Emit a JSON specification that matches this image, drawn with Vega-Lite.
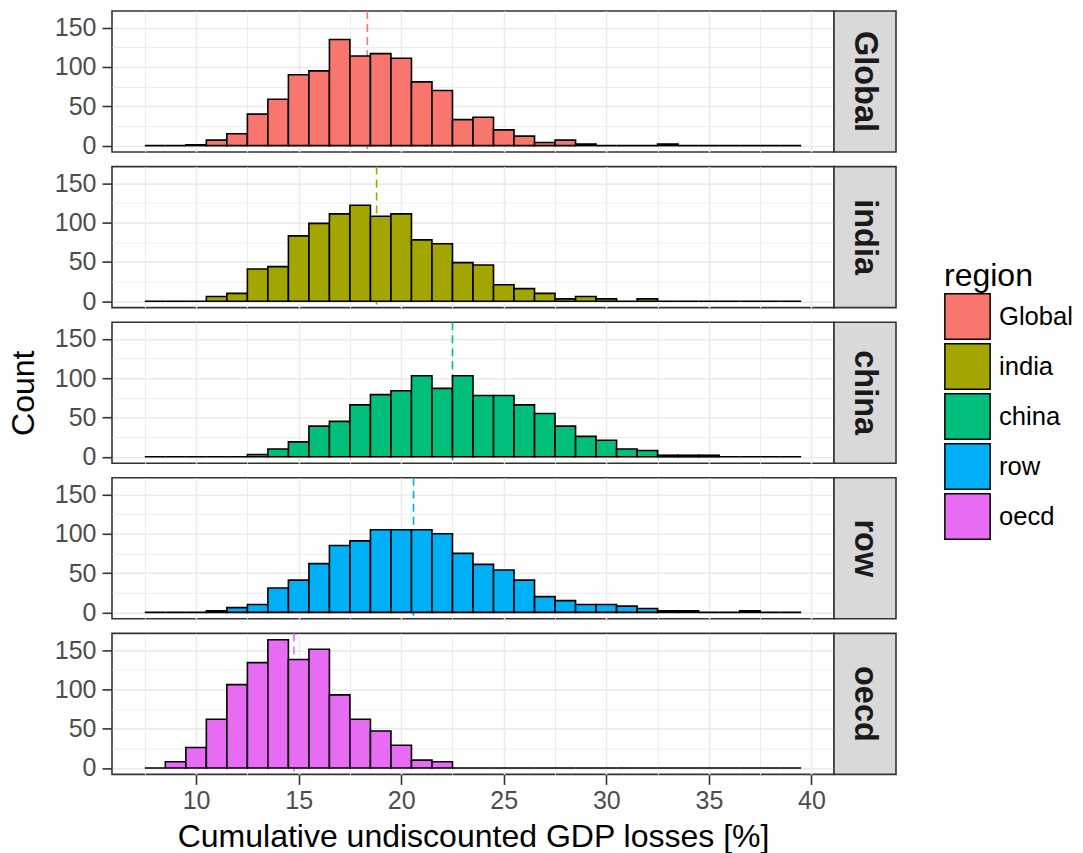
{
  "$schema": "https://vega.github.io/schema/vega-lite/v6.json",
  "background": "white",
  "padding": {"left": 6, "top": 9, "right": 0, "bottom": 0},
  "spacing": 4.6,
  "datasets": {
    "means": [
      {"region": "Global", "mean": 18.35},
      {"region": "india", "mean": 18.8},
      {"region": "china", "mean": 22.5},
      {"region": "row", "mean": 20.6},
      {"region": "oecd", "mean": 14.77}
    ],
    "hist": [
      {"region":"Global","lo":7.5,"hi":8.5,"count":0},{"region":"Global","lo":8.5,"hi":9.5,"count":0},{"region":"Global","lo":9.5,"hi":10.5,"count":1},{"region":"Global","lo":10.5,"hi":11.5,"count":7},{"region":"Global","lo":11.5,"hi":12.5,"count":15},{"region":"Global","lo":12.5,"hi":13.5,"count":40},{"region":"Global","lo":13.5,"hi":14.5,"count":59},{"region":"Global","lo":14.5,"hi":15.5,"count":90},{"region":"Global","lo":15.5,"hi":16.5,"count":95},{"region":"Global","lo":16.5,"hi":17.5,"count":135},{"region":"Global","lo":17.5,"hi":18.5,"count":114},{"region":"Global","lo":18.5,"hi":19.5,"count":117},{"region":"Global","lo":19.5,"hi":20.5,"count":111},{"region":"Global","lo":20.5,"hi":21.5,"count":81},{"region":"Global","lo":21.5,"hi":22.5,"count":70},{"region":"Global","lo":22.5,"hi":23.5,"count":33},{"region":"Global","lo":23.5,"hi":24.5,"count":36},{"region":"Global","lo":24.5,"hi":25.5,"count":20},{"region":"Global","lo":25.5,"hi":26.5,"count":12},{"region":"Global","lo":26.5,"hi":27.5,"count":4},{"region":"Global","lo":27.5,"hi":28.5,"count":7},{"region":"Global","lo":28.5,"hi":29.5,"count":2},{"region":"Global","lo":29.5,"hi":30.5,"count":0},{"region":"Global","lo":30.5,"hi":31.5,"count":0},{"region":"Global","lo":31.5,"hi":32.5,"count":0},{"region":"Global","lo":32.5,"hi":33.5,"count":2},{"region":"Global","lo":33.5,"hi":34.5,"count":0},{"region":"Global","lo":34.5,"hi":35.5,"count":0},{"region":"Global","lo":35.5,"hi":36.5,"count":0},{"region":"Global","lo":36.5,"hi":37.5,"count":0},{"region":"Global","lo":37.5,"hi":38.5,"count":0},{"region":"Global","lo":38.5,"hi":39.5,"count":0},
      {"region":"india","lo":7.5,"hi":8.5,"count":0},{"region":"india","lo":8.5,"hi":9.5,"count":0},{"region":"india","lo":9.5,"hi":10.5,"count":0},{"region":"india","lo":10.5,"hi":11.5,"count":6},{"region":"india","lo":11.5,"hi":12.5,"count":10},{"region":"india","lo":12.5,"hi":13.5,"count":41},{"region":"india","lo":13.5,"hi":14.5,"count":44},{"region":"india","lo":14.5,"hi":15.5,"count":83},{"region":"india","lo":15.5,"hi":16.5,"count":99},{"region":"india","lo":16.5,"hi":17.5,"count":111},{"region":"india","lo":17.5,"hi":18.5,"count":122},{"region":"india","lo":18.5,"hi":19.5,"count":108},{"region":"india","lo":19.5,"hi":20.5,"count":111},{"region":"india","lo":20.5,"hi":21.5,"count":78},{"region":"india","lo":21.5,"hi":22.5,"count":73},{"region":"india","lo":22.5,"hi":23.5,"count":49},{"region":"india","lo":23.5,"hi":24.5,"count":46},{"region":"india","lo":24.5,"hi":25.5,"count":21},{"region":"india","lo":25.5,"hi":26.5,"count":16},{"region":"india","lo":26.5,"hi":27.5,"count":10},{"region":"india","lo":27.5,"hi":28.5,"count":3},{"region":"india","lo":28.5,"hi":29.5,"count":6},{"region":"india","lo":29.5,"hi":30.5,"count":3},{"region":"india","lo":30.5,"hi":31.5,"count":0},{"region":"india","lo":31.5,"hi":32.5,"count":3},{"region":"india","lo":32.5,"hi":33.5,"count":0},{"region":"india","lo":33.5,"hi":34.5,"count":0},{"region":"india","lo":34.5,"hi":35.5,"count":0},{"region":"india","lo":35.5,"hi":36.5,"count":0},{"region":"india","lo":36.5,"hi":37.5,"count":0},{"region":"india","lo":37.5,"hi":38.5,"count":0},{"region":"india","lo":38.5,"hi":39.5,"count":0},
      {"region":"china","lo":7.5,"hi":8.5,"count":0},{"region":"china","lo":8.5,"hi":9.5,"count":0},{"region":"china","lo":9.5,"hi":10.5,"count":0},{"region":"china","lo":10.5,"hi":11.5,"count":0},{"region":"china","lo":11.5,"hi":12.5,"count":0},{"region":"china","lo":12.5,"hi":13.5,"count":3},{"region":"china","lo":13.5,"hi":14.5,"count":10},{"region":"china","lo":14.5,"hi":15.5,"count":19},{"region":"china","lo":15.5,"hi":16.5,"count":39},{"region":"china","lo":16.5,"hi":17.5,"count":45},{"region":"china","lo":17.5,"hi":18.5,"count":66},{"region":"china","lo":18.5,"hi":19.5,"count":79},{"region":"china","lo":19.5,"hi":20.5,"count":84},{"region":"china","lo":20.5,"hi":21.5,"count":103},{"region":"china","lo":21.5,"hi":22.5,"count":87},{"region":"china","lo":22.5,"hi":23.5,"count":103},{"region":"china","lo":23.5,"hi":24.5,"count":78},{"region":"china","lo":24.5,"hi":25.5,"count":78},{"region":"china","lo":25.5,"hi":26.5,"count":66},{"region":"china","lo":26.5,"hi":27.5,"count":55},{"region":"china","lo":27.5,"hi":28.5,"count":39},{"region":"china","lo":28.5,"hi":29.5,"count":26},{"region":"china","lo":29.5,"hi":30.5,"count":21},{"region":"china","lo":30.5,"hi":31.5,"count":10},{"region":"china","lo":31.5,"hi":32.5,"count":8},{"region":"china","lo":32.5,"hi":33.5,"count":2},{"region":"china","lo":33.5,"hi":34.5,"count":2},{"region":"china","lo":34.5,"hi":35.5,"count":2},{"region":"china","lo":35.5,"hi":36.5,"count":0},{"region":"china","lo":36.5,"hi":37.5,"count":0},{"region":"china","lo":37.5,"hi":38.5,"count":0},{"region":"china","lo":38.5,"hi":39.5,"count":0},
      {"region":"row","lo":7.5,"hi":8.5,"count":0},{"region":"row","lo":8.5,"hi":9.5,"count":0},{"region":"row","lo":9.5,"hi":10.5,"count":0},{"region":"row","lo":10.5,"hi":11.5,"count":2},{"region":"row","lo":11.5,"hi":12.5,"count":6},{"region":"row","lo":12.5,"hi":13.5,"count":10},{"region":"row","lo":13.5,"hi":14.5,"count":31},{"region":"row","lo":14.5,"hi":15.5,"count":41},{"region":"row","lo":15.5,"hi":16.5,"count":62},{"region":"row","lo":16.5,"hi":17.5,"count":85},{"region":"row","lo":17.5,"hi":18.5,"count":91},{"region":"row","lo":18.5,"hi":19.5,"count":105},{"region":"row","lo":19.5,"hi":20.5,"count":105},{"region":"row","lo":20.5,"hi":21.5,"count":105},{"region":"row","lo":21.5,"hi":22.5,"count":100},{"region":"row","lo":22.5,"hi":23.5,"count":75},{"region":"row","lo":23.5,"hi":24.5,"count":61},{"region":"row","lo":24.5,"hi":25.5,"count":54},{"region":"row","lo":25.5,"hi":26.5,"count":41},{"region":"row","lo":26.5,"hi":27.5,"count":20},{"region":"row","lo":27.5,"hi":28.5,"count":15},{"region":"row","lo":28.5,"hi":29.5,"count":10},{"region":"row","lo":29.5,"hi":30.5,"count":10},{"region":"row","lo":30.5,"hi":31.5,"count":8},{"region":"row","lo":31.5,"hi":32.5,"count":5},{"region":"row","lo":32.5,"hi":33.5,"count":2},{"region":"row","lo":33.5,"hi":34.5,"count":2},{"region":"row","lo":34.5,"hi":35.5,"count":0},{"region":"row","lo":35.5,"hi":36.5,"count":0},{"region":"row","lo":36.5,"hi":37.5,"count":2},{"region":"row","lo":37.5,"hi":38.5,"count":0},{"region":"row","lo":38.5,"hi":39.5,"count":0},
      {"region":"oecd","lo":7.5,"hi":8.5,"count":0},{"region":"oecd","lo":8.5,"hi":9.5,"count":8},{"region":"oecd","lo":9.5,"hi":10.5,"count":26},{"region":"oecd","lo":10.5,"hi":11.5,"count":62},{"region":"oecd","lo":11.5,"hi":12.5,"count":106},{"region":"oecd","lo":12.5,"hi":13.5,"count":134},{"region":"oecd","lo":13.5,"hi":14.5,"count":163},{"region":"oecd","lo":14.5,"hi":15.5,"count":138},{"region":"oecd","lo":15.5,"hi":16.5,"count":151},{"region":"oecd","lo":16.5,"hi":17.5,"count":93},{"region":"oecd","lo":17.5,"hi":18.5,"count":62},{"region":"oecd","lo":18.5,"hi":19.5,"count":47},{"region":"oecd","lo":19.5,"hi":20.5,"count":29},{"region":"oecd","lo":20.5,"hi":21.5,"count":10},{"region":"oecd","lo":21.5,"hi":22.5,"count":8},{"region":"oecd","lo":22.5,"hi":23.5,"count":0},{"region":"oecd","lo":23.5,"hi":24.5,"count":0},{"region":"oecd","lo":24.5,"hi":25.5,"count":0},{"region":"oecd","lo":25.5,"hi":26.5,"count":0},{"region":"oecd","lo":26.5,"hi":27.5,"count":0},{"region":"oecd","lo":27.5,"hi":28.5,"count":0},{"region":"oecd","lo":28.5,"hi":29.5,"count":0},{"region":"oecd","lo":29.5,"hi":30.5,"count":0},{"region":"oecd","lo":30.5,"hi":31.5,"count":0},{"region":"oecd","lo":31.5,"hi":32.5,"count":0},{"region":"oecd","lo":32.5,"hi":33.5,"count":0},{"region":"oecd","lo":33.5,"hi":34.5,"count":0},{"region":"oecd","lo":34.5,"hi":35.5,"count":0},{"region":"oecd","lo":35.5,"hi":36.5,"count":0},{"region":"oecd","lo":36.5,"hi":37.5,"count":0},{"region":"oecd","lo":37.5,"hi":38.5,"count":0},{"region":"oecd","lo":38.5,"hi":39.5,"count":0}
    ]
  },
  "vconcat": [
    {
      "spacing": 0, "bounds": "flush",
      "hconcat": [
        {
          "width": 722, "height": 141,
          "layer": [
            {
              "data": {"name": "means"},
              "transform": [{"filter": "datum.region === 'Global'"}],
              "mark": {"type": "rule", "strokeDash": [8, 5], "strokeWidth": 1.6, "color": "#F8766D"},
              "encoding": {
                "x": {"field": "mean", "type": "quantitative", "scale": {"domain": [5.9, 41.1], "nice": false, "zero": false},
                  "axis": {"values": [7.5,10,12.5,15,17.5,20,22.5,25,27.5,30,32.5,35,37.5,40], "title": null, "labels": false, "ticks": false, "gridWidth": {"condition": {"test": "datum.value % 5 !== 0", "value": 0.9}, "value": 1.6}}}
              }
            },
            {
              "data": {"name": "hist"},
              "transform": [{"filter": "datum.region === 'Global'"}],
              "mark": {"type": "bar", "stroke": "black", "strokeWidth": 1.6},
              "encoding": {
                "x": {"field": "lo", "type": "quantitative", "scale": {"domain": [5.9, 41.1], "nice": false, "zero": false},
                  "axis": {"values": [7.5,10,12.5,15,17.5,20,22.5,25,27.5,30,32.5,35,37.5,40], "title": null, "labels": false, "ticks": false, "gridWidth": {"condition": {"test": "datum.value % 5 !== 0", "value": 0.9}, "value": 1.6}}},
                "x2": {"field": "hi"},
                "y": {"field": "count", "type": "quantitative", "stack": null, "scale": {"domain": [-8.15, 171.15], "nice": false, "zero": false},
                  "axis": {"values": [0,25,50,75,100,125,150], "title": "Count", "titleOpacity": 0, "labelExpr": "datum.value % 50 === 0 ? '' + datum.value : ''", "tickOpacity": {"condition": {"test": "datum.value % 50 !== 0", "value": 0}, "value": 1}, "gridWidth": {"condition": {"test": "datum.value % 50 !== 0", "value": 0.9}, "value": 1.6}}},
                "y2": {"datum": 0},
                "fill": {"field": "region", "type": "nominal", "scale": {"domain": ["Global","india","china","row","oecd"], "range": ["#F8766D","#A3A500","#00BF7D","#00B0F6","#E76BF3"]},
                  "legend": {"title": "region", "orient": "none", "legendX": 832, "legendY": 250}}
              }
            }
          ]
        },
        {
          "width": 62, "height": 141,
          "view": {"fill": "#d9d9d9", "stroke": "#333333", "strokeWidth": 1.6},
          "data": {"name": "means"},
          "transform": [{"filter": "datum.region === 'Global'"}],
          "mark": {"type": "text", "angle": 90, "fontSize": 32.5, "fontWeight": "bold", "color": "#1a1a1a", "align": "center", "baseline": "middle"},
          "encoding": {
            "text": {"field": "region", "type": "nominal"},
            "x": {"datum": 0.5, "type": "quantitative", "scale": {"domain": [0, 1]}, "axis": null},
            "y": {"datum": 0.5, "type": "quantitative", "scale": {"domain": [0, 1]}, "axis": null}
          }
        }
      ]
    },
    {
      "spacing": 0, "bounds": "flush",
      "hconcat": [
        {
          "width": 722, "height": 141,
          "layer": [
            {
              "data": {"name": "means"},
              "transform": [{"filter": "datum.region === 'india'"}],
              "mark": {"type": "rule", "strokeDash": [8, 5], "strokeWidth": 1.6, "color": "#A3A500"},
              "encoding": {
                "x": {"field": "mean", "type": "quantitative", "scale": {"domain": [5.9, 41.1], "nice": false, "zero": false},
                  "axis": {"values": [7.5,10,12.5,15,17.5,20,22.5,25,27.5,30,32.5,35,37.5,40], "title": null, "labels": false, "ticks": false, "gridWidth": {"condition": {"test": "datum.value % 5 !== 0", "value": 0.9}, "value": 1.6}}}
              }
            },
            {
              "data": {"name": "hist"},
              "transform": [{"filter": "datum.region === 'india'"}],
              "mark": {"type": "bar", "stroke": "black", "strokeWidth": 1.6},
              "encoding": {
                "x": {"field": "lo", "type": "quantitative", "scale": {"domain": [5.9, 41.1], "nice": false, "zero": false},
                  "axis": {"values": [7.5,10,12.5,15,17.5,20,22.5,25,27.5,30,32.5,35,37.5,40], "title": null, "labels": false, "ticks": false, "gridWidth": {"condition": {"test": "datum.value % 5 !== 0", "value": 0.9}, "value": 1.6}}},
                "x2": {"field": "hi"},
                "y": {"field": "count", "type": "quantitative", "stack": null, "scale": {"domain": [-8.15, 171.15], "nice": false, "zero": false},
                  "axis": {"values": [0,25,50,75,100,125,150], "title": "Count", "titleOpacity": 0, "labelExpr": "datum.value % 50 === 0 ? '' + datum.value : ''", "tickOpacity": {"condition": {"test": "datum.value % 50 !== 0", "value": 0}, "value": 1}, "gridWidth": {"condition": {"test": "datum.value % 50 !== 0", "value": 0.9}, "value": 1.6}}},
                "y2": {"datum": 0},
                "fill": {"field": "region", "type": "nominal", "scale": {"domain": ["Global","india","china","row","oecd"], "range": ["#F8766D","#A3A500","#00BF7D","#00B0F6","#E76BF3"]},
                  "legend": {"title": "region", "orient": "none", "legendX": 832, "legendY": 250}}
              }
            }
          ]
        },
        {
          "width": 62, "height": 141,
          "view": {"fill": "#d9d9d9", "stroke": "#333333", "strokeWidth": 1.6},
          "data": {"name": "means"},
          "transform": [{"filter": "datum.region === 'india'"}],
          "mark": {"type": "text", "angle": 90, "fontSize": 32.5, "fontWeight": "bold", "color": "#1a1a1a", "align": "center", "baseline": "middle"},
          "encoding": {
            "text": {"field": "region", "type": "nominal"},
            "x": {"datum": 0.5, "type": "quantitative", "scale": {"domain": [0, 1]}, "axis": null},
            "y": {"datum": 0.5, "type": "quantitative", "scale": {"domain": [0, 1]}, "axis": null}
          }
        }
      ]
    },
    {
      "spacing": 0, "bounds": "flush",
      "hconcat": [
        {
          "width": 722, "height": 141,
          "layer": [
            {
              "data": {"name": "means"},
              "transform": [{"filter": "datum.region === 'china'"}],
              "mark": {"type": "rule", "strokeDash": [8, 5], "strokeWidth": 1.6, "color": "#00BF7D"},
              "encoding": {
                "x": {"field": "mean", "type": "quantitative", "scale": {"domain": [5.9, 41.1], "nice": false, "zero": false},
                  "axis": {"values": [7.5,10,12.5,15,17.5,20,22.5,25,27.5,30,32.5,35,37.5,40], "title": null, "labels": false, "ticks": false, "gridWidth": {"condition": {"test": "datum.value % 5 !== 0", "value": 0.9}, "value": 1.6}}}
              }
            },
            {
              "data": {"name": "hist"},
              "transform": [{"filter": "datum.region === 'china'"}],
              "mark": {"type": "bar", "stroke": "black", "strokeWidth": 1.6},
              "encoding": {
                "x": {"field": "lo", "type": "quantitative", "scale": {"domain": [5.9, 41.1], "nice": false, "zero": false},
                  "axis": {"values": [7.5,10,12.5,15,17.5,20,22.5,25,27.5,30,32.5,35,37.5,40], "title": null, "labels": false, "ticks": false, "gridWidth": {"condition": {"test": "datum.value % 5 !== 0", "value": 0.9}, "value": 1.6}}},
                "x2": {"field": "hi"},
                "y": {"field": "count", "type": "quantitative", "stack": null, "scale": {"domain": [-8.15, 171.15], "nice": false, "zero": false},
                  "axis": {"values": [0,25,50,75,100,125,150], "title": "Count", "titleOpacity": 1, "labelExpr": "datum.value % 50 === 0 ? '' + datum.value : ''", "tickOpacity": {"condition": {"test": "datum.value % 50 !== 0", "value": 0}, "value": 1}, "gridWidth": {"condition": {"test": "datum.value % 50 !== 0", "value": 0.9}, "value": 1.6}}},
                "y2": {"datum": 0},
                "fill": {"field": "region", "type": "nominal", "scale": {"domain": ["Global","india","china","row","oecd"], "range": ["#F8766D","#A3A500","#00BF7D","#00B0F6","#E76BF3"]},
                  "legend": {"title": "region", "orient": "none", "legendX": 832, "legendY": 250}}
              }
            }
          ]
        },
        {
          "width": 62, "height": 141,
          "view": {"fill": "#d9d9d9", "stroke": "#333333", "strokeWidth": 1.6},
          "data": {"name": "means"},
          "transform": [{"filter": "datum.region === 'china'"}],
          "mark": {"type": "text", "angle": 90, "fontSize": 32.5, "fontWeight": "bold", "color": "#1a1a1a", "align": "center", "baseline": "middle"},
          "encoding": {
            "text": {"field": "region", "type": "nominal"},
            "x": {"datum": 0.5, "type": "quantitative", "scale": {"domain": [0, 1]}, "axis": null},
            "y": {"datum": 0.5, "type": "quantitative", "scale": {"domain": [0, 1]}, "axis": null}
          }
        }
      ]
    },
    {
      "spacing": 0, "bounds": "flush",
      "hconcat": [
        {
          "width": 722, "height": 141,
          "layer": [
            {
              "data": {"name": "means"},
              "transform": [{"filter": "datum.region === 'row'"}],
              "mark": {"type": "rule", "strokeDash": [8, 5], "strokeWidth": 1.6, "color": "#00B0F6"},
              "encoding": {
                "x": {"field": "mean", "type": "quantitative", "scale": {"domain": [5.9, 41.1], "nice": false, "zero": false},
                  "axis": {"values": [7.5,10,12.5,15,17.5,20,22.5,25,27.5,30,32.5,35,37.5,40], "title": null, "labels": false, "ticks": false, "gridWidth": {"condition": {"test": "datum.value % 5 !== 0", "value": 0.9}, "value": 1.6}}}
              }
            },
            {
              "data": {"name": "hist"},
              "transform": [{"filter": "datum.region === 'row'"}],
              "mark": {"type": "bar", "stroke": "black", "strokeWidth": 1.6},
              "encoding": {
                "x": {"field": "lo", "type": "quantitative", "scale": {"domain": [5.9, 41.1], "nice": false, "zero": false},
                  "axis": {"values": [7.5,10,12.5,15,17.5,20,22.5,25,27.5,30,32.5,35,37.5,40], "title": null, "labels": false, "ticks": false, "gridWidth": {"condition": {"test": "datum.value % 5 !== 0", "value": 0.9}, "value": 1.6}}},
                "x2": {"field": "hi"},
                "y": {"field": "count", "type": "quantitative", "stack": null, "scale": {"domain": [-8.15, 171.15], "nice": false, "zero": false},
                  "axis": {"values": [0,25,50,75,100,125,150], "title": "Count", "titleOpacity": 0, "labelExpr": "datum.value % 50 === 0 ? '' + datum.value : ''", "tickOpacity": {"condition": {"test": "datum.value % 50 !== 0", "value": 0}, "value": 1}, "gridWidth": {"condition": {"test": "datum.value % 50 !== 0", "value": 0.9}, "value": 1.6}}},
                "y2": {"datum": 0},
                "fill": {"field": "region", "type": "nominal", "scale": {"domain": ["Global","india","china","row","oecd"], "range": ["#F8766D","#A3A500","#00BF7D","#00B0F6","#E76BF3"]},
                  "legend": {"title": "region", "orient": "none", "legendX": 832, "legendY": 250}}
              }
            }
          ]
        },
        {
          "width": 62, "height": 141,
          "view": {"fill": "#d9d9d9", "stroke": "#333333", "strokeWidth": 1.6},
          "data": {"name": "means"},
          "transform": [{"filter": "datum.region === 'row'"}],
          "mark": {"type": "text", "angle": 90, "fontSize": 32.5, "fontWeight": "bold", "color": "#1a1a1a", "align": "center", "baseline": "middle"},
          "encoding": {
            "text": {"field": "region", "type": "nominal"},
            "x": {"datum": 0.5, "type": "quantitative", "scale": {"domain": [0, 1]}, "axis": null},
            "y": {"datum": 0.5, "type": "quantitative", "scale": {"domain": [0, 1]}, "axis": null}
          }
        }
      ]
    },
    {
      "spacing": 0, "bounds": "flush",
      "hconcat": [
        {
          "width": 722, "height": 141,
          "layer": [
            {
              "data": {"name": "means"},
              "transform": [{"filter": "datum.region === 'oecd'"}],
              "mark": {"type": "rule", "strokeDash": [8, 5], "strokeWidth": 1.6, "color": "#E76BF3"},
              "encoding": {
                "x": {"field": "mean", "type": "quantitative", "scale": {"domain": [5.9, 41.1], "nice": false, "zero": false},
                  "axis": {"values": [7.5,10,12.5,15,17.5,20,22.5,25,27.5,30,32.5,35,37.5,40], "title": "Cumulative undiscounted GDP losses [%]", "labelExpr": "datum.value % 5 === 0 ? '' + datum.value : ''", "tickOpacity": {"condition": {"test": "datum.value % 5 !== 0", "value": 0}, "value": 1}, "gridWidth": {"condition": {"test": "datum.value % 5 !== 0", "value": 0.9}, "value": 1.6}}}
              }
            },
            {
              "data": {"name": "hist"},
              "transform": [{"filter": "datum.region === 'oecd'"}],
              "mark": {"type": "bar", "stroke": "black", "strokeWidth": 1.6},
              "encoding": {
                "x": {"field": "lo", "type": "quantitative", "scale": {"domain": [5.9, 41.1], "nice": false, "zero": false},
                  "axis": {"values": [7.5,10,12.5,15,17.5,20,22.5,25,27.5,30,32.5,35,37.5,40], "title": "Cumulative undiscounted GDP losses [%]", "labelExpr": "datum.value % 5 === 0 ? '' + datum.value : ''", "tickOpacity": {"condition": {"test": "datum.value % 5 !== 0", "value": 0}, "value": 1}, "gridWidth": {"condition": {"test": "datum.value % 5 !== 0", "value": 0.9}, "value": 1.6}}},
                "x2": {"field": "hi"},
                "y": {"field": "count", "type": "quantitative", "stack": null, "scale": {"domain": [-8.15, 171.15], "nice": false, "zero": false},
                  "axis": {"values": [0,25,50,75,100,125,150], "title": "Count", "titleOpacity": 0, "labelExpr": "datum.value % 50 === 0 ? '' + datum.value : ''", "tickOpacity": {"condition": {"test": "datum.value % 50 !== 0", "value": 0}, "value": 1}, "gridWidth": {"condition": {"test": "datum.value % 50 !== 0", "value": 0.9}, "value": 1.6}}},
                "y2": {"datum": 0},
                "fill": {"field": "region", "type": "nominal", "scale": {"domain": ["Global","india","china","row","oecd"], "range": ["#F8766D","#A3A500","#00BF7D","#00B0F6","#E76BF3"]},
                  "legend": {"title": "region", "orient": "none", "legendX": 832, "legendY": 250}}
              }
            }
          ]
        },
        {
          "width": 62, "height": 141,
          "view": {"fill": "#d9d9d9", "stroke": "#333333", "strokeWidth": 1.6},
          "data": {"name": "means"},
          "transform": [{"filter": "datum.region === 'oecd'"}],
          "mark": {"type": "text", "angle": 90, "fontSize": 32.5, "fontWeight": "bold", "color": "#1a1a1a", "align": "center", "baseline": "middle"},
          "encoding": {
            "text": {"field": "region", "type": "nominal"},
            "x": {"datum": 0.5, "type": "quantitative", "scale": {"domain": [0, 1]}, "axis": null},
            "y": {"datum": 0.5, "type": "quantitative", "scale": {"domain": [0, 1]}, "axis": null}
          }
        }
      ]
    }
  ],
  "config": {
    "font": "Liberation Sans",
    "view": {"stroke": "#333333", "strokeWidth": 1.6},
    "axis": {
      "domain": false, "grid": true, "gridColor": "#ebebeb",
      "tickColor": "#333333", "tickWidth": 1.6, "tickSize": 10,
      "labelColor": "#4d4d4d", "labelFontSize": 25, "labelPadding": 6, "labelFont": "Liberation Sans",
      "titleFontSize": 32, "titleFontWeight": "normal", "titleColor": "black", "titlePadding": 14, "titleFont": "Liberation Sans"
    },
    "axisX": {"labelPadding": 4, "titlePadding": 8},
    "legend": {
      "titleFontSize": 32, "titleFontWeight": "normal", "titleColor": "black", "titleFont": "Liberation Sans", "titlePadding": 0,
      "labelFontSize": 25.6, "labelColor": "black", "labelFont": "Liberation Sans", "labelOffset": 8,
      "symbolType": "square", "symbolSize": 2050, "symbolStrokeColor": "black", "symbolStrokeWidth": 1.5, "symbolOpacity": 1,
      "rowPadding": -10, "padding": 0, "offset": 0
    }
  }
}
